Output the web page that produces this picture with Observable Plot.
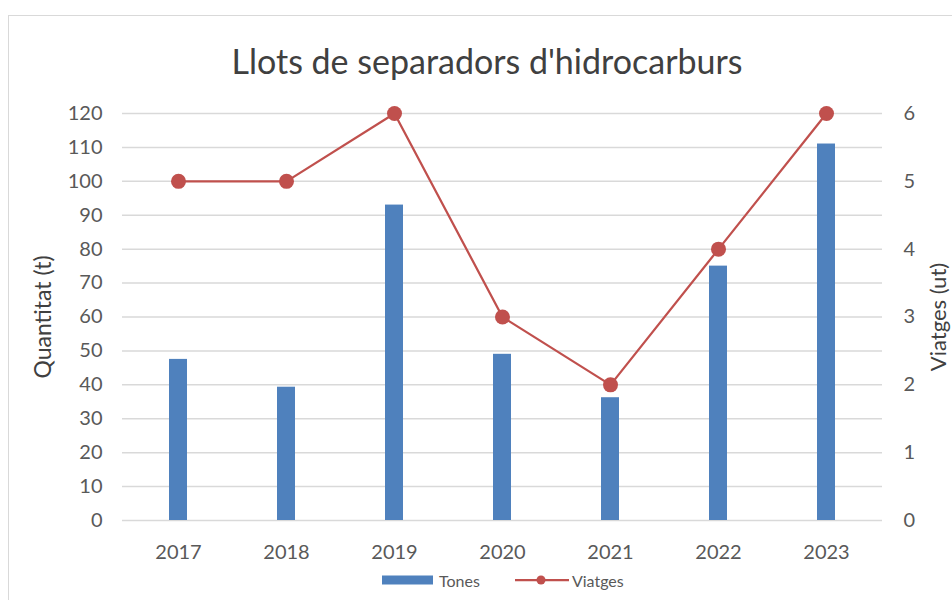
<!DOCTYPE html>
<html>
<head>
<meta charset="utf-8">
<script src="https://cdn.jsdelivr.net/npm/d3@7"></script>
<script src="https://cdn.jsdelivr.net/npm/@observablehq/plot@0.6"></script>
<style>
  body { margin: 0; background: #fff; font-family: Lato, "Liberation Sans", sans-serif; }
  #wrap { position: relative; width: 952px; height: 600px; overflow: hidden; }
  #frame { position: absolute; left: 8px; top: 15px; width: 1100px; height: 700px; border: 1.5px solid #d9d9d9; box-sizing: border-box; }
  #title { position: absolute; top: 44px; left: 0; width: 974px; text-align: center; font-size: 34px; line-height: 34px; color: #404040; }
  #chart { position: absolute; left: 0; top: 90px; }
  .ytitle { position: absolute; font-size: 23px; line-height: 23px; color: #404040; white-space: nowrap; transform: translate(-50%, -50%) rotate(-90deg); }
  #legend { position: absolute; top: 571px; left: 382px; font-size: 16px; color: #595959; display: flex; align-items: center; height: 18px; }
</style>
</head>
<body>
<div id="wrap">
  <div id="frame"></div>
  <div id="title">Llots de separadors d'hidrocarburs</div>
  <div id="chart"></div>
  <div class="ytitle" style="left:42px; top:317px;">Quantitat (t)</div>
  <div class="ytitle" style="left:938px; top:317px; font-size:22px; line-height:22px;">Viatges (ut)</div>
  <div id="legend">
    <svg width="51" height="12"><rect x="0" y="1.5" width="51" height="9" fill="#4f81bd"></rect></svg>
    <span style="margin-left:6px;">Tones</span>
    <svg width="54" height="14" style="margin-left:35px;"><line x1="0" y1="7" x2="54" y2="7" stroke="#c0504d" stroke-width="2.25"></line><circle cx="26" cy="7" r="4.5" fill="#c0504d"></circle></svg>
    <span style="margin-left:3px;">Viatges</span>
  </div>
</div>
<script>
const years = ["2017", "2018", "2019", "2020", "2021", "2022", "2023"];
const tones = [47.5, 39.3, 93, 49, 36.2, 75, 111];
const viatges = [5, 5, 6, 3, 2, 4, 6];
const leftTicks = [0, 10, 20, 30, 40, 50, 60, 70, 80, 90, 100, 110, 120];
const rightTicks = [0, 1, 2, 3, 4, 5, 6];

const ratio = 20; // 6 trips on the right axis line up with 120 t on the left
const data = years.map((y, i) => ({ year: y, tones: tones[i], viatges: viatges[i] }));

const chart = Plot.plot({
  width: 952,
  height: 480,
  marginTop: 23,
  marginBottom: 50,
  marginLeft: 122,
  marginRight: 70,
  style: { fontFamily: "Lato, 'Liberation Sans', sans-serif", fontSize: "20px", color: "#595959", background: "transparent" },
  x: { domain: years, paddingInner: 0.834, paddingOuter: 0.417, align: 0.5, label: null },
  y: { domain: [0, 120], label: null },
  marks: [
    Plot.gridY(leftTicks, { stroke: "#d9d9d9", strokeOpacity: 1, strokeWidth: 1.5 }),
    Plot.axisX({ tickSize: 0, tickPadding: 24, label: null, fontSize: 20 }),
    Plot.axisY(leftTicks, { anchor: "left", tickSize: 0, tickPadding: 20, label: null, fontSize: 20 }),
    Plot.axisY(rightTicks.map(v => v * ratio), { anchor: "right", tickSize: 0, tickPadding: 21, label: null, fontSize: 20, tickFormat: d => d / ratio }),
    Plot.barY(data, { x: "year", y: "tones", fill: "#4f81bd" }),
    Plot.line(data, { x: "year", y: d => d.viatges * ratio, stroke: "#c0504d", strokeWidth: 2.25 }),
    Plot.dot(data, { x: "year", y: d => d.viatges * ratio, r: 7.5, fill: "#c0504d", stroke: "none" })
  ]
});
document.getElementById("chart").appendChild(chart);
</script>
</body>
</html>
